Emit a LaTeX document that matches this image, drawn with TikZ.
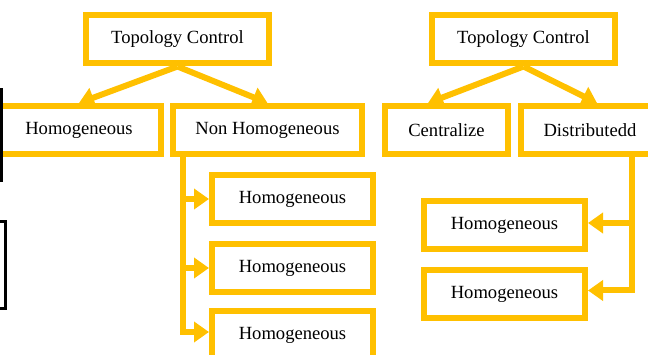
\documentclass[tikz,border=0pt]{standalone}
\usepackage{fontspec}
\setmainfont{Liberation Serif}
\usepackage{tikz}
\usetikzlibrary{arrows.meta}
\definecolor{gold}{HTML}{FFC000}

\begin{document}
\begin{tikzpicture}[x=1pt,y=-1pt,
    box/.style={draw=gold, line width=6pt, minimum height=48pt, inner sep=0pt,
                font=\fontsize{18.6}{22}\selectfont},
    arr/.style={draw=gold, line width=6pt, -{Triangle[length=15pt,width=20pt]}}]
    \clip (0,0) rectangle (648,355);
    \node[box, minimum width=183pt] (tcl) at (177.5,39.5) {Topology Control};
    \node[box, minimum width=163.5pt] (hom) at (79,130) {Homogeneous};
    \node[box, minimum width=189pt] (nonhom) at (267.5,130) {Non Homogeneous};
    \node[box, minimum width=161pt] (hA) at (292.5,199) {Homogeneous};
    \node[box, minimum width=161pt] (hB) at (292.5,268) {Homogeneous};
    \node[box, minimum width=161pt] (hC) at (292.5,335) {Homogeneous};
    \node[box, minimum width=183pt] (tcr) at (523.5,39.5) {Topology Control};
    \node[box, minimum width=123pt] (cen) at (446.5,130) {Centralize};
    \node[box, minimum width=138pt] (dis) at (590,130) {Distributedd};
    \node[box, minimum width=161pt] (rA) at (504.5,225) {Homogeneous};
    \node[box, minimum width=161pt] (rB) at (504.5,294.5) {Homogeneous};
    \draw[arr] (tcl.south) -- (hom.north);
    \draw[arr] (tcl.south) -- (nonhom.north);
    \draw[arr] (tcr.south) -- ([xshift=-18.5pt]cen.north);
    \draw[arr] (tcr.south) -- ([xshift=7pt]dis.north);
    \coordinate (ltrunk) at ([xshift=13pt]nonhom.south west);
    \draw[arr] (ltrunk) |- ([yshift=3pt]hC.west);
    \draw[arr] (ltrunk |- hA.west) -- (hA.west);
    \draw[arr] (ltrunk |- hB.west) -- (hB.west);
    \coordinate (rtrunk) at ([xshift=41.5pt]dis.south);
    \draw[arr] (rtrunk) |- ([yshift=4pt]rB.east);
    \draw[arr] (rtrunk |- rA.east) ++(0,-2) -- ([yshift=2pt]rA.east);
    \draw[line width=3pt] (-10,90) rectangle (1.5,181);
    \draw[line width=3pt] (-10,221.5) rectangle (5.5,308.5);
\end{tikzpicture}
\end{document}
